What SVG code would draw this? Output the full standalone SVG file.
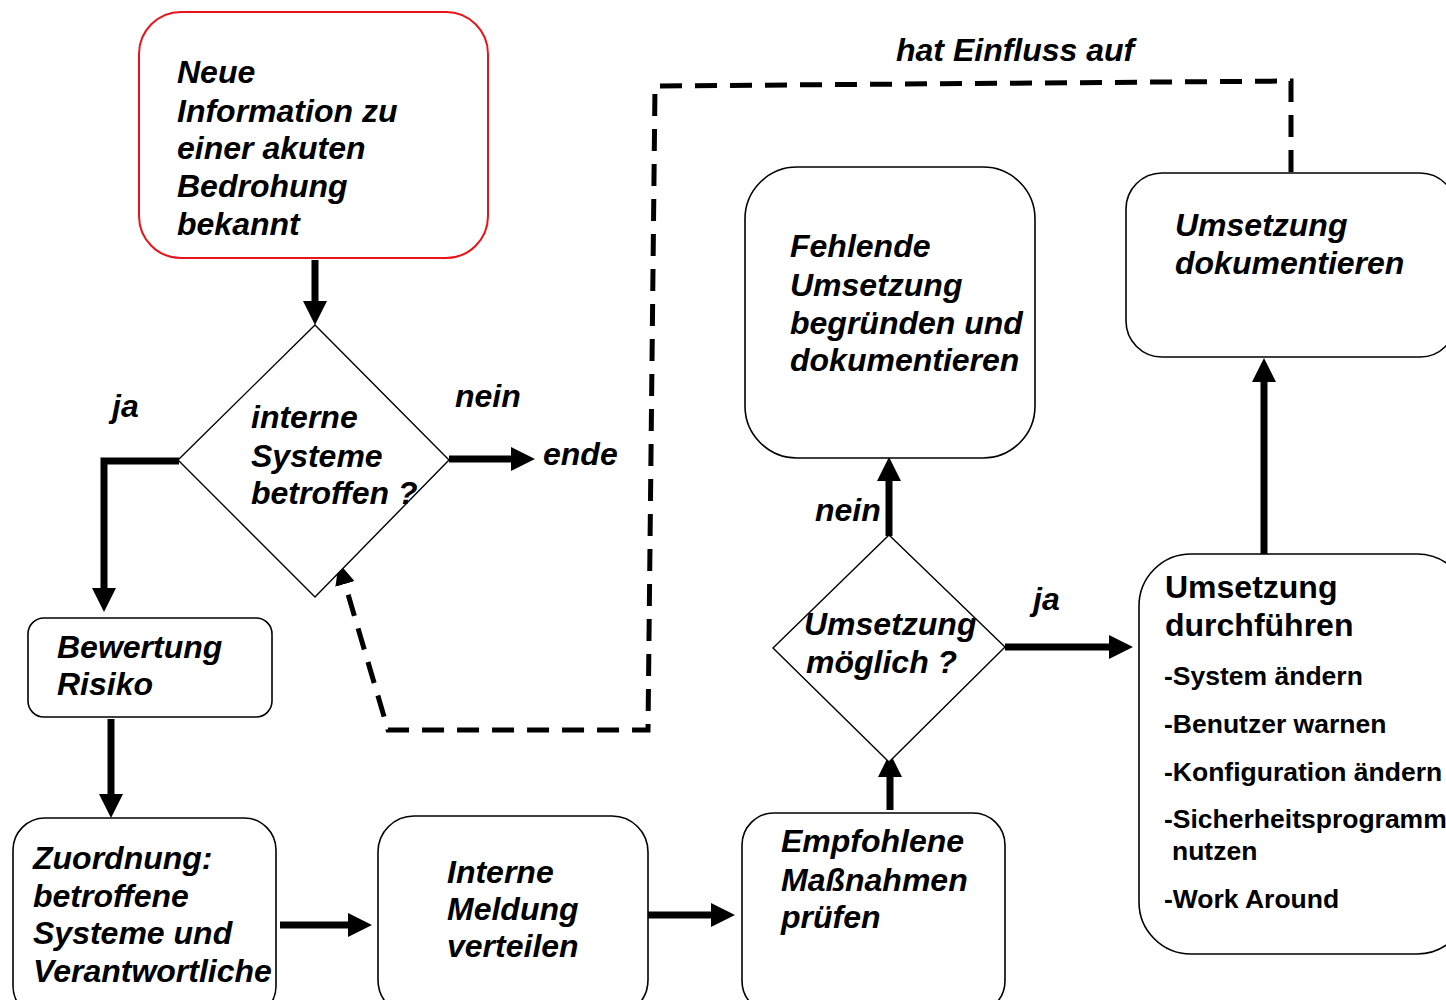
<svg xmlns="http://www.w3.org/2000/svg" width="1446" height="1000" viewBox="0 0 1446 1000">
<style>
.box{fill:#fff;stroke:#000;stroke-width:1.6}
.red{fill:#fff;stroke:#e8141b;stroke-width:2}
.dia{fill:#fff;stroke:#000;stroke-width:1.4}
.t{font-family:"Liberation Sans",Arial,sans-serif;font-weight:bold;font-style:italic;font-size:32px;fill:#000}
.h{font-family:"Liberation Sans",Arial,sans-serif;font-weight:bold;font-size:32px;fill:#000}
.l{font-family:"Liberation Sans",Arial,sans-serif;font-weight:bold;font-size:26.5px;fill:#000}
.c{fill:none;stroke:#000;stroke-width:7;marker-end:url(#ah)}
.d{fill:none;stroke:#000;stroke-width:5;stroke-dasharray:22 13;marker-end:url(#dh)}
</style>
<defs>
<marker id="ah" markerUnits="userSpaceOnUse" markerWidth="26" markerHeight="24" refX="0" refY="12" orient="auto">
<path d="M0,0 L24,12 L0,24 z" fill="#000"/>
</marker>
<marker id="dh" markerUnits="userSpaceOnUse" markerWidth="24" markerHeight="20" refX="0" refY="10" orient="auto">
<path d="M0,0 L22,10 L0,20 z" fill="#000"/>
</marker>
</defs>
<rect width="1446" height="1000" fill="#fff"/>

<g id="connectors">
<path class="c" d="M315,260 V301"/>
<path class="c" d="M179,461 H104 V588"/>
<path class="c" d="M449,459 H511"/>
<path class="c" d="M111,719 V794"/>
<path class="c" d="M280,925 H348"/>
<path class="c" d="M648,915 H711"/>
<path class="c" d="M890,810 V777"/>
<path class="c" d="M889,536 V481"/>
<path class="c" d="M1005,647 H1109"/>
<path class="c" d="M1264,554 V382"/>
<path class="d" d="M1291,172 V81 L655,86 L648,730 H388 L345,584"/>
</g>

<g id="n_neue">
<rect class="red" x="139" y="12" width="349" height="246" rx="42"/>
<text class="t" x="177" y="83">Neue</text>
<text class="t" x="177" y="122">Information zu</text>
<text class="t" x="177" y="159">einer akuten</text>
<text class="t" x="177" y="197">Bedrohung</text>
<text class="t" x="177" y="235">bekannt</text>
</g>

<g id="n_interne">
<path class="dia" d="M315,325 L449,460 L315,597 L178,460 z"/>
<text class="t" x="251" y="428">interne</text>
<text class="t" x="251" y="467">Systeme</text>
<text class="t" x="251" y="504">betroffen ?</text>
</g>

<g id="n_ende">
<text class="t" x="543" y="465">ende</text>
</g>

<g id="labels">
<text class="t" x="112" y="417">ja</text>
<text class="t" x="455" y="407">nein</text>
<text class="t" x="815" y="521">nein</text>
<text class="t" x="1033" y="610">ja</text>
<text class="t" x="896" y="61">hat Einfluss auf</text>
</g>

<g id="n_bewertung">
<rect class="box" x="28" y="618" width="244" height="99" rx="16"/>
<text class="t" x="57" y="658">Bewertung</text>
<text class="t" x="57" y="695">Risiko</text>
</g>

<g id="n_zuordnung">
<rect class="box" x="13" y="818" width="263" height="200" rx="32"/>
<text class="t" x="33" y="869">Zuordnung:</text>
<text class="t" x="33" y="907">betroffene</text>
<text class="t" x="33" y="944">Systeme und</text>
<text class="t" x="33" y="982">Verantwortliche</text>
</g>

<g id="n_meldung">
<rect class="box" x="378" y="816" width="270" height="200" rx="36"/>
<text class="t" x="447" y="883">Interne</text>
<text class="t" x="447" y="920">Meldung</text>
<text class="t" x="447" y="957">verteilen</text>
</g>

<g id="n_empfohlene">
<rect class="box" x="742" y="813" width="263" height="200" rx="32"/>
<text class="t" x="781" y="852">Empfohlene</text>
<text class="t" x="781" y="891">Maßnahmen</text>
<text class="t" x="781" y="928">prüfen</text>
</g>

<g id="n_moeglich">
<path class="dia" d="M889,535 L1005,647 L889,762 L773,648 z"/>
<text class="t" x="804" y="635">Umsetzung</text>
<text class="t" x="806" y="673">möglich ?</text>
</g>

<g id="n_fehlende">
<rect class="box" x="745" y="167" width="290" height="291" rx="52"/>
<text class="t" x="790" y="257">Fehlende</text>
<text class="t" x="790" y="296">Umsetzung</text>
<text class="t" x="790" y="334">begründen und</text>
<text class="t" x="790" y="371">dokumentieren</text>
</g>

<g id="n_dokumentieren">
<rect class="box" x="1126" y="173" width="330" height="184" rx="36"/>
<text class="t" x="1175" y="236">Umsetzung</text>
<text class="t" x="1175" y="274">dokumentieren</text>
</g>

<g id="n_durchfuehren">
<rect class="box" x="1139" y="554" width="330" height="400" rx="52"/>
<text class="h" x="1165" y="598">Umsetzung</text>
<text class="h" x="1165" y="636">durchführen</text>
<text class="l" x="1164" y="685">-System ändern</text>
<text class="l" x="1164" y="733">-Benutzer warnen</text>
<text class="l" x="1164" y="781">-Konfiguration ändern</text>
<text class="l" x="1164" y="828">-Sicherheitsprogramm</text>
<text class="l" x="1172" y="860">nutzen</text>
<text class="l" x="1164" y="908">-Work Around</text>
</g>
</svg>
